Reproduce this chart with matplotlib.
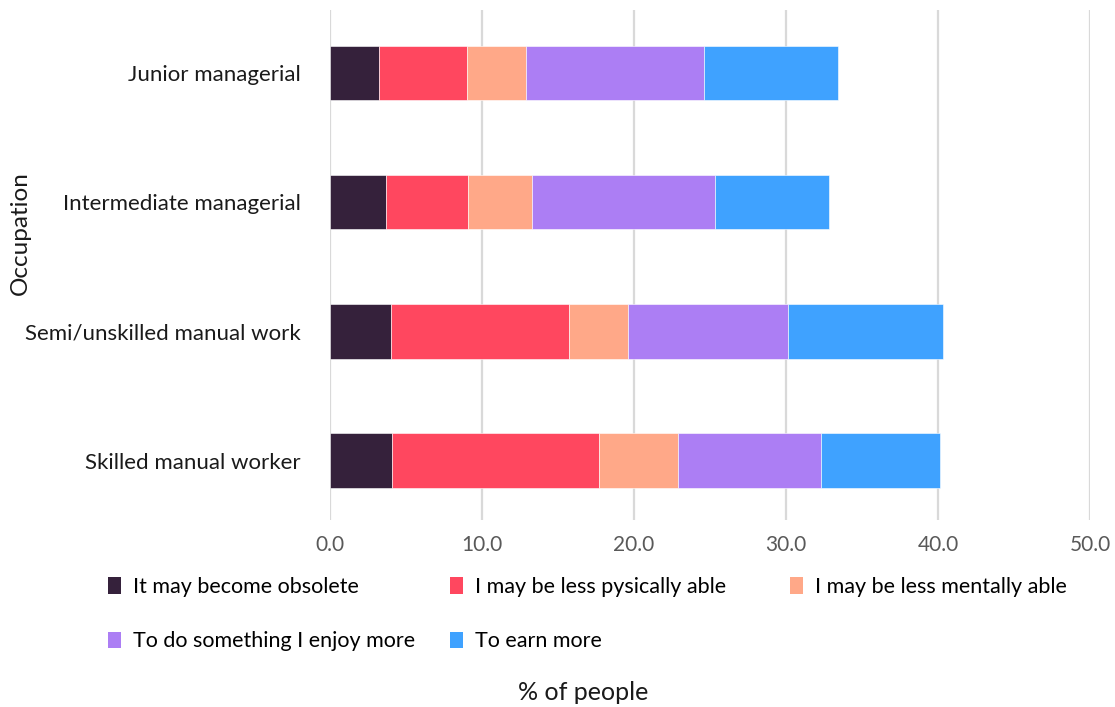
import numpy as np
import matplotlib.pyplot as plt
from matplotlib.patches import Patch

plt.rcParams['font.family'] = ['Lato', 'DejaVu Sans']

occupations = ["Junior managerial", "Intermediate managerial",
               "Semi/unskilled manual work", "Skilled manual worker"]
reasons = ["It may become obsolete", "I may be less pysically able",
           "I may be less mentally able", "To do something I enjoy more",
           "To earn more"]

obsolete = [3.2, 3.7, 4.0, 4.1]
less_physical = [5.8, 5.4, 11.7, 13.6]
less_mental = [3.9, 4.2, 3.9, 5.2]
enjoy_more = [11.7, 12.0, 10.5, 9.4]
earn_more = [8.8, 7.5, 10.2, 7.8]

series = [obsolete, less_physical, less_mental, enjoy_more, earn_more]
colors = ["#35213b", "#ff475f", "#ffa888", "#ac7ef4", "#3fa2ff"]

fig = plt.figure(figsize=(11.15, 7.07), dpi=100)
ax = fig.add_axes([330 / 1115, 1 - 520 / 707, 760 / 1115, 510 / 707])

y = np.arange(len(occupations))
left = np.zeros(len(occupations))
for vals, col, lab in zip(series, colors, reasons):
    ax.barh(y, vals, left=left, height=0.42, color=col, label=lab,
            edgecolor="white", linewidth=0.4, zorder=3)
    left += np.array(vals)

ax.set_xlim(0, 50)
ax.set_ylim(len(occupations) - 0.54, -0.49)
ax.set_xticks(np.arange(0, 51, 10))
ax.set_xticklabels([f"{v:.1f}" for v in np.arange(0, 51, 10)])
ax.set_yticks(y)
ax.set_yticklabels(occupations)

ax.grid(axis="x", color="#d9d9d9", linewidth=1.6, zorder=0)
for s in ax.spines.values():
    s.set_visible(False)
ax.tick_params(axis="both", length=0)
ax.tick_params(axis="x", labelsize=15, labelcolor="#595959", pad=11)
ax.tick_params(axis="y", labelsize=16, labelcolor="#1a1a1a", pad=21)

fig.text(20 / 1115, 1 - 233 / 707, "Occupation", rotation=90,
         ha="center", va="center", fontsize=17.5, color="#1a1a1a")
fig.text(583 / 1115, 1 - 692 / 707, "% of people",
         ha="center", va="center", fontsize=18, color="#1a1a1a")

# legend laid out in fixed-width columns, two rows
handles = [Patch(facecolor=c) for c in colors]
columns = [([0, 3], 108), ([1, 4], 450), ([2], 790)]
for idx, xpos in columns:
    fig.legend([handles[i] for i in idx], [reasons[i] for i in idx],
               loc="upper left", bbox_to_anchor=(xpos / 1115, 1 - 577 / 707),
               frameon=False, fontsize=15.5, handlelength=0.6,
               handleheight=0.8, handletextpad=0.55, labelspacing=1.6,
               borderaxespad=0, borderpad=0)

fig.savefig("out.png", dpi=100)
